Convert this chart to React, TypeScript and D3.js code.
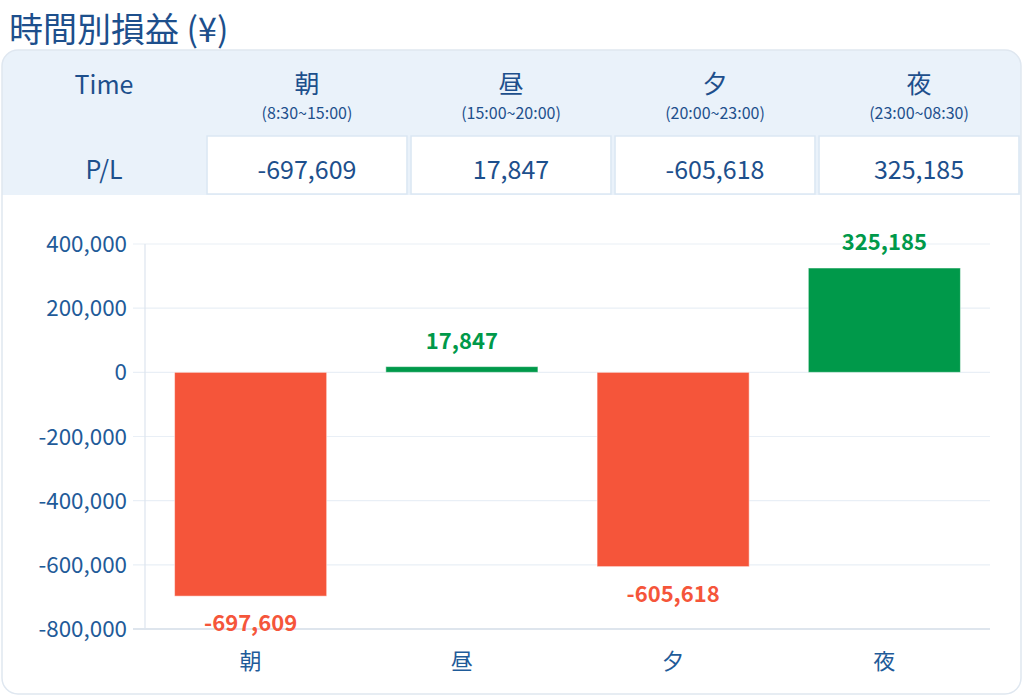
import * as React from "react";
import { format, scaleBand, scaleLinear } from "d3";

const categories = ["朝", "昼", "夕", "夜"];
const timeRanges = ["(8:30~15:00)", "(15:00~20:00)", "(20:00~23:00)", "(23:00~08:30)"];
const pnl = [-697609, 17847, -605618, 325185];
const yTicks = [400000, 200000, 0, -200000, -400000, -600000, -800000];

const FONT = "'Noto Sans CJK JP', 'Noto Sans', sans-serif";
const NAVY = "#1d4f8c";
const TICK = "#1f5b99";
const RED = "#f5553a";
const GREEN = "#00994a";

// d3 uses a unicode minus; the original shows a plain hyphen
const fmt = (v: number) => format(",")(v).replace("\u2212", "-");

export default function App() {
  const width = 1024;
  const height = 697;

  // table columns
  const colScale = scaleBand<string>()
    .domain(categories)
    .range([205, 1021])
    .paddingInner(0.02)
    .paddingOuter(0.01);

  // chart scales
  const plot = { left: 145, right: 990, top: 244, bottom: 629 };
  const xScale = scaleBand<string>()
    .domain(categories)
    .range([plot.left, plot.right])
    .paddingInner(0.28)
    .paddingOuter(0.14);
  const yScale = scaleLinear()
    .domain([-800000, 400000])
    .range([plot.bottom, plot.top]);

  return (
    <div style={{ position: "absolute", left: 0, top: 0 }}>
      <svg width={width} height={height} style={{ fontFamily: FONT, display: "block" }}>
        <rect width={width} height={height} fill="#ffffff" />
        <text x={9} y={42} fontSize={34} fill={NAVY}>
          時間別損益 (¥)
        </text>

        {/* card */}
        <defs>
          <clipPath id="card">
            <rect x={2} y={50} width={1019} height={644} rx={16} />
          </clipPath>
        </defs>
        <g clipPath="url(#card)">
          <rect x={2} y={50} width={1019} height={644} fill="#ffffff" />
          <rect x={2} y={50} width={1019} height={145} fill="#eaf2fa" />
        </g>
        <rect x={2} y={50} width={1019} height={644} rx={16} fill="none" stroke="#dfe7f0" strokeWidth={1.5} />

        {/* table */}
        <text x={104} y={87} fontSize={25} fill={NAVY} textAnchor="middle" dominantBaseline="middle">
          Time
        </text>
        <text x={104} y={172} fontSize={25} fill={NAVY} textAnchor="middle" dominantBaseline="middle">
          P/L
        </text>
        {categories.map((c, i) => {
          const x0 = colScale(c) as number;
          const w = colScale.bandwidth();
          const cx = x0 + w / 2;
          return (
            <g key={c}>
              <text x={cx} y={86} fontSize={25} fill={NAVY} textAnchor="middle" dominantBaseline="middle">
                {c}
              </text>
              <text x={cx} y={115} fontSize={16} fill={NAVY} textAnchor="middle" dominantBaseline="middle">
                {timeRanges[i]}
              </text>
              <rect x={x0} y={136} width={w} height={58} fill="#ffffff" stroke="#dbe7f3" strokeWidth={1.5} />
              <text x={cx} y={172} fontSize={25} fill={NAVY} textAnchor="middle" dominantBaseline="middle">
                {fmt(pnl[i])}
              </text>
            </g>
          );
        })}

        {/* grid + y axis */}
        {yTicks.map((t) => (
          <g key={t}>
            <line
              x1={plot.left - 12}
              x2={plot.right}
              y1={yScale(t)}
              y2={yScale(t)}
              stroke={t === -800000 ? "#d3dce7" : "#e9eff6"}
              strokeWidth={t === -800000 ? 1.5 : 1.2}
            />
            <text
              x={127}
              y={yScale(t) + 2}
              fontSize={22.4}
              fill={TICK}
              textAnchor="end"
              dominantBaseline="middle"
            >
              {fmt(t)}
            </text>
          </g>
        ))}
        <line x1={plot.left} x2={plot.left} y1={plot.top} y2={plot.bottom} stroke="#dde5ee" strokeWidth={1.2} />

        {/* bars */}
        {pnl.map((v, i) => {
          const c = categories[i];
          const x0 = xScale(c) as number;
          const w = xScale.bandwidth();
          const y0 = yScale(Math.max(0, v));
          const y1 = yScale(Math.min(0, v));
          const color = v >= 0 ? GREEN : RED;
          return (
            <g key={c}>
              <rect x={x0} y={y0} width={w} height={Math.max(1, y1 - y0)} fill={color} stroke="#ffffff" strokeOpacity={0.5} strokeWidth={1} />
              <text
                x={x0 + w / 2}
                y={v >= 0 ? y0 - 18 : y1 + 35}
                fontSize={22}
                fontWeight={700}
                fill={color}
                textAnchor="middle"
              >
                {fmt(v)}
              </text>
            </g>
          );
        })}

        {/* category axis */}
        {categories.map((c) => (
          <text
            key={c}
            x={(xScale(c) as number) + xScale.bandwidth() / 2}
            y={663}
            fontSize={22}
            fill={TICK}
            textAnchor="middle"
            dominantBaseline="middle"
          >
            {c}
          </text>
        ))}
      </svg>
    </div>
  );
}
